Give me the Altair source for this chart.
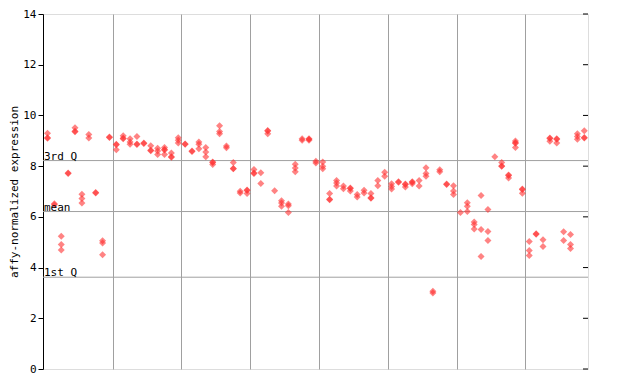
import altair as alt
import pandas as pd

# replicate values per sample (sample index 0..78)
samples = [
    [9.30, 9.12, 9.10], [6.52, 6.48], [5.24, 4.91, 4.69], [7.73, 7.71], [9.51, 9.38, 9.36],
    [6.89, 6.72, 6.55], [9.25, 9.11], [6.96, 6.94], [5.06, 4.97, 4.51], [9.15, 9.13],
    [8.86, 8.84, 8.65], [9.20, 9.10, 9.08], [9.08, 8.95, 8.86], [9.17, 8.87, 8.85], [8.91, 8.89],
    [8.80, 8.63, 8.61], [8.71, 8.60, 8.46], [8.74, 8.66, 8.64, 8.46], [8.52, 8.37, 8.35], [9.12, 9.02, 8.91],
    [8.87, 8.86], [8.60, 8.58], [8.95, 8.86, 8.69], [8.74, 8.56, 8.37], [8.16, 8.14, 8.06],
    [9.59, 9.37, 9.28], [8.79, 8.73], [8.14, 7.91, 7.90], [7.01, 6.94], [7.06, 7.04, 6.92],
    [7.87, 7.73, 7.71], [7.74, 7.32], [9.41, 9.39, 9.28], [7.03], [6.64, 6.55, 6.42],
    [6.51, 6.44, 6.17], [8.07, 7.93, 7.78], [9.08, 9.02], [9.08, 9.06, 9.02], [8.19, 8.12],
    [8.16, 8.00, 7.90], [6.92, 6.69, 6.67], [7.43, 7.34, 7.22], [7.22, 7.11], [7.14, 7.12, 7.02],
    [6.88, 6.78], [7.05, 6.94], [6.92, 6.75, 6.73], [7.43, 7.23], [7.76, 7.60],
    [7.31, 7.20, 7.10], [7.38, 7.36], [7.30, 7.28, 7.18], [7.38, 7.36, 7.31], [7.43, 7.22],
    [7.94, 7.71, 7.60], [3.07, 3.00], [7.86, 7.78], [7.30, 7.28], [7.23, 7.02, 6.88],
    [6.17], [6.56, 6.42, 6.21], [5.80, 5.70, 5.52], [6.84, 5.50, 4.44], [6.29, 5.42, 5.07],
    [8.37], [8.14, 8.01, 8.00], [7.65, 7.63, 7.53], [8.99, 8.92, 8.90, 8.74], [7.10, 7.08, 6.93],
    [5.03, 4.67, 4.48], [5.33, 5.31], [5.10, 4.83], [9.11, 9.09, 8.98], [9.08, 9.06, 8.91],
    [5.41, 5.07], [5.30, 4.91, 4.75], [9.28, 9.17, 9.06], [9.40, 9.13, 9.11],
]

y_ticks = [0, 2, 4, 6, 8, 10, 12, 14]
group_bounds = [9.45, 19.45, 29.45, 39.45, 49.45, 59.45, 69.45]
stat_names = ["3rd Q", "mean", "1st Q"]
stat_values = [8.22, 6.21, 3.62]

rows = []
for i, vals in enumerate(samples):
    for v in vals:
        rows.append({"sample": i, "value": v})
df = pd.DataFrame(rows)

FONT = "DejaVu Sans Mono"
W, H = 545, 355

yscale = alt.Scale(domain=[0, 14], nice=False, zero=False)
xscale = alt.Scale(domain=[-0.654, 78.54], nice=False, zero=False)

points = alt.Chart(df).mark_point(
    shape="diamond", filled=True, size=49, color="#ff3030", opacity=0.6, strokeWidth=0
).encode(
    x=alt.X("sample:Q", scale=xscale,
            axis=alt.Axis(values=group_bounds, labels=False, ticks=False, domain=False,
                          grid=True, gridColor="#a0a0a0", gridWidth=1, title=None)),
    y=alt.Y("value:Q", scale=yscale,
            axis=alt.Axis(values=y_ticks, grid=False, tickSize=5, tickColor="black",
                          domainColor="black", labelFont=FONT, labelFontSize=11,
                          labelColor="black", labelPadding=2,
                          title="affy-normalized expression", titleFont=FONT,
                          titleFontSize=11, titleFontWeight="normal", titleColor="black",
                          titlePadding=3)),
)

stats_df = pd.DataFrame({"name": stat_names, "value": stat_values})
stat_lines = alt.Chart(stats_df).mark_rule(color="#a0a0a0", strokeWidth=1).encode(
    y=alt.Y("value:Q", scale=yscale)
)
stat_text = alt.Chart(stats_df).mark_text(
    align="left", baseline="bottom", font=FONT, fontSize=11, color="black", dx=0, dy=1
).encode(
    x=alt.value(1), y=alt.Y("value:Q", scale=yscale), text="name:N"
)

right_ticks = alt.Chart(pd.DataFrame({"value": y_ticks})).mark_rule(
    color="black", strokeWidth=1
).encode(
    x=alt.value(W - 5), x2=alt.value(W), y=alt.Y("value:Q", scale=yscale)
)

chart = alt.layer(stat_lines, points, stat_text, right_ticks).properties(
    width=W, height=H,
    autosize=alt.AutoSizeParams(type="none"),
    padding={"left": 35, "top": 6, "right": 40, "bottom": 10},
).configure_view(stroke="black", strokeWidth=1).configure(background="white")

chart.save("out.html", embed_options={"renderer": "svg", "actions": False})
